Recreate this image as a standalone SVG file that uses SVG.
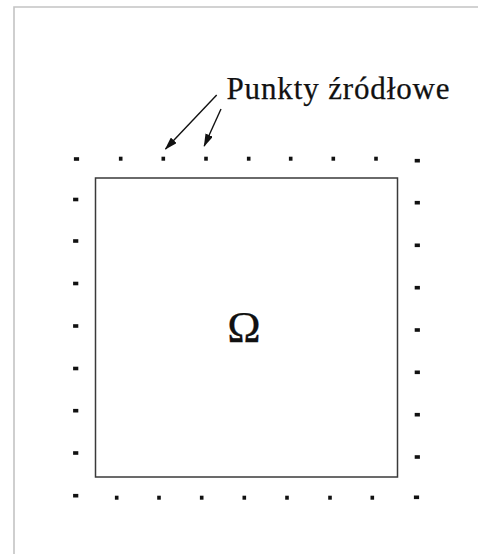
<svg xmlns="http://www.w3.org/2000/svg" width="478" height="554" viewBox="0 0 478 554">
  <style>
    .frame { fill: none; stroke: #c4c4c4; stroke-width: 1.6; }
    .domain { fill: none; stroke: #3a3a3a; stroke-width: 1.5; }
    .pt { fill: #111; }
    .lead { fill: none; stroke: #111; stroke-width: 1.4; }
    .lbl { font-family: "Liberation Serif", "Times New Roman", serif; fill: #111; stroke: #111; stroke-width: 0.25; }
  </style>
  <defs>
    <marker id="arr" viewBox="0 0 13 8" refX="12" refY="4" markerWidth="13" markerHeight="8" markerUnits="userSpaceOnUse" orient="auto">
      <path d="M0,0 L13,4 L0,8 Z" fill="#111"/>
    </marker>
    <!-- source point marks: horizontal dash for side columns, small square for rows -->
    <rect id="ph" x="-2.6" y="-1.8" width="5.2" height="3.6"/>
    <rect id="pv" x="-1.8" y="-2" width="3.6" height="4"/>
  </defs>

  <rect width="478" height="554" fill="#fff"/>
  <path class="frame" d="M14,560 L14,7 L480,7"/>

  <g id="domain">
    <rect class="domain" x="95.5" y="178" width="302" height="299"/>
    <text class="lbl" x="244" y="342" font-size="45" text-anchor="middle" stroke-width="0.6">Ω</text>
  </g>

  <g id="source-points" class="pt">
    <!-- top row -->
    <use href="#ph" x="76.5" y="159"/>
    <use href="#pv" x="120.7" y="158.7"/>
    <use href="#pv" x="163.3" y="158.7"/>
    <use href="#pv" x="206" y="158.7"/>
    <use href="#pv" x="248.7" y="158.7"/>
    <use href="#pv" x="290.7" y="158.7"/>
    <use href="#pv" x="333.3" y="158.7"/>
    <use href="#pv" x="376" y="158.7"/>
    <use href="#ph" x="417.3" y="160.7"/>
    <!-- left column -->
    <use href="#ph" x="75.7" y="199.5"/>
    <use href="#ph" x="75.7" y="241"/>
    <use href="#ph" x="75.7" y="283.5"/>
    <use href="#ph" x="75.7" y="326"/>
    <use href="#ph" x="75.7" y="368.5"/>
    <use href="#ph" x="75.7" y="410.7"/>
    <use href="#ph" x="75.7" y="453"/>
    <use href="#ph" x="75.7" y="495.7"/>
    <!-- right column -->
    <use href="#ph" x="417.3" y="202.7"/>
    <use href="#ph" x="417.3" y="245.3"/>
    <use href="#ph" x="417.3" y="287.7"/>
    <use href="#ph" x="417.3" y="330"/>
    <use href="#ph" x="417.3" y="372.3"/>
    <use href="#ph" x="417.3" y="414.7"/>
    <use href="#ph" x="417.3" y="457"/>
    <use href="#ph" x="416.5" y="497.3"/>
    <!-- bottom row -->
    <use href="#pv" x="116.7" y="497.7"/>
    <use href="#pv" x="159" y="497.7"/>
    <use href="#pv" x="201.7" y="497.7"/>
    <use href="#pv" x="244.3" y="497.7"/>
    <use href="#pv" x="287" y="497.7"/>
    <use href="#pv" x="330" y="497.7"/>
    <use href="#pv" x="372.3" y="497.7"/>
  </g>

  <g id="label">
    <text class="lbl" x="226.5" y="99.3" font-size="31" textLength="223" lengthAdjust="spacing">Punkty źródłowe</text>
  </g>

  <g id="connectors">
    <line class="lead" x1="216.7" y1="95" x2="165.5" y2="149" marker-end="url(#arr)"/>
    <line class="lead" x1="221" y1="109" x2="204.2" y2="146" marker-end="url(#arr)"/>
  </g>
</svg>
